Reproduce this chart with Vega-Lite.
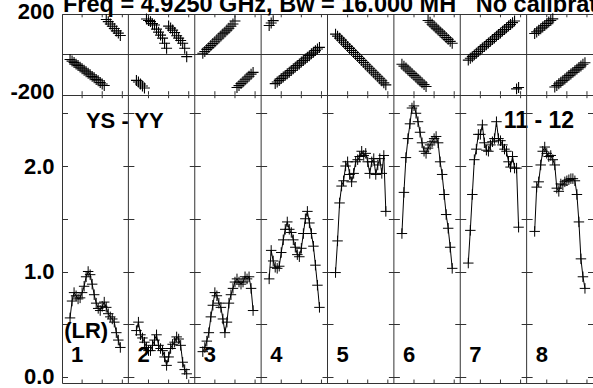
{
  "$schema": "https://vega.github.io/schema/vega-lite/v6.json",
  "width": 531,
  "height": 369,
  "autosize": {"type": "none"},
  "padding": {"left": 62, "top": 14, "right": 0, "bottom": 5},
  "background": "white",
  "config": {
    "view": {"stroke": "#333", "strokeWidth": 1},
    "axis": {"labelFont": "Liberation Sans", "labelFontWeight": "bold", "labelFontSize": 22, "labelColor": "black", "labelOverlap": false, "domain": false, "ticks": false, "tickSize": 0, "labelPadding": 8},
    "text": {"font": "Liberation Sans", "fontWeight": "bold", "fontSize": 22, "color": "black"}
  },
  "datasets": {
    "d": [
      {"i":1,"chan":4,"a":0.56,"p":-26},{"i":1,"chan":5,"a":0.72,"p":-34},{"i":1,"chan":6,"a":0.80,"p":-41},{"i":1,"chan":7,"a":0.77,"p":-49},{"i":1,"chan":8,"a":0.74,"p":-56},{"i":1,"chan":9,"a":0.75,"p":-64},{"i":1,"chan":10,"a":0.80,"p":-72},{"i":1,"chan":11,"a":0.86,"p":-79},{"i":1,"chan":12,"a":0.95,"p":-87},{"i":1,"chan":13,"a":1.00,"p":-94},{"i":1,"chan":14,"a":0.97,"p":-102},{"i":1,"chan":15,"a":0.88,"p":-110},{"i":1,"chan":16,"a":0.78,"p":-117},{"i":1,"chan":17,"a":0.70,"p":-125},{"i":1,"chan":18,"a":0.65,"p":-132},{"i":1,"chan":19,"a":0.63,"p":-140},{"i":1,"chan":20,"a":0.67,"p":-148},{"i":1,"chan":21,"a":0.71,"p":-155},{"i":1,"chan":22,"a":0.66,"p":173},{"i":1,"chan":23,"a":0.60,"p":162},{"i":1,"chan":24,"a":0.57,"p":150},{"i":1,"chan":25,"a":0.55,"p":139},{"i":1,"chan":26,"a":0.52,"p":128},{"i":1,"chan":27,"a":0.42,"p":116},{"i":1,"chan":28,"a":0.35,"p":105},{"i":1,"chan":29,"a":0.28,"p":93},
      {"i":2,"chan":37,"a":0.44,"p":-130},{"i":2,"chan":38,"a":0.52,"p":-138},{"i":2,"chan":39,"a":0.40,"p":-148},{"i":2,"chan":40,"a":0.37,"p":-158},{"i":2,"chan":41,"a":0.33,"p":-168},{"i":2,"chan":42,"a":0.28,"p":175},{"i":2,"chan":43,"a":0.25,"p":168},{"i":2,"chan":44,"a":0.25,"p":162},{"i":2,"chan":45,"a":0.30,"p":152},{"i":2,"chan":46,"a":0.35,"p":145},{"i":2,"chan":47,"a":0.40,"p":125},{"i":2,"chan":48,"a":0.30,"p":110},{"i":2,"chan":49,"a":0.27,"p":95},{"i":2,"chan":50,"a":0.25,"p":80},{"i":2,"chan":51,"a":0.19,"p":55},{"i":2,"chan":52,"a":0.11,"p":30},{"i":2,"chan":53,"a":0.19,"p":140},{"i":2,"chan":54,"a":0.27,"p":130},{"i":2,"chan":55,"a":0.31,"p":120},{"i":2,"chan":56,"a":0.33,"p":108},{"i":2,"chan":57,"a":0.38,"p":92},{"i":2,"chan":58,"a":0.36,"p":80},{"i":2,"chan":59,"a":0.30,"p":68},{"i":2,"chan":60,"a":0.14,"p":55},{"i":2,"chan":61,"a":0.07,"p":30},{"i":2,"chan":62,"a":0.03,"p":-12},
      {"i":3,"chan":70,"a":0.24,"p":5},{"i":3,"chan":71,"a":0.28,"p":14},{"i":3,"chan":72,"a":0.34,"p":24},{"i":3,"chan":73,"a":0.42,"p":33},{"i":3,"chan":74,"a":0.57,"p":43},{"i":3,"chan":75,"a":0.68,"p":53},{"i":3,"chan":76,"a":0.80,"p":62},{"i":3,"chan":77,"a":0.77,"p":72},{"i":3,"chan":78,"a":0.70,"p":81},{"i":3,"chan":79,"a":0.66,"p":91},{"i":3,"chan":80,"a":0.55,"p":101},{"i":3,"chan":81,"a":0.42,"p":110},{"i":3,"chan":82,"a":0.52,"p":120},{"i":3,"chan":83,"a":0.70,"p":129},{"i":3,"chan":84,"a":0.78,"p":139},{"i":3,"chan":85,"a":0.84,"p":150},{"i":3,"chan":86,"a":0.90,"p":165},{"i":3,"chan":87,"a":0.93,"p":-165},{"i":3,"chan":88,"a":0.90,"p":-156},{"i":3,"chan":89,"a":0.88,"p":-146},{"i":3,"chan":90,"a":0.90,"p":-137},{"i":3,"chan":91,"a":0.95,"p":-127},{"i":3,"chan":92,"a":0.93,"p":-118},{"i":3,"chan":93,"a":0.95,"p":-109},{"i":3,"chan":94,"a":0.84,"p":-99},{"i":3,"chan":95,"a":0.63,"p":-90},
      {"i":4,"chan":103,"a":0.93,"p":143},{"i":4,"chan":104,"a":1.20,"p":155},{"i":4,"chan":105,"a":1.10,"p":167},{"i":4,"chan":106,"a":1.04,"p":-146},{"i":4,"chan":107,"a":1.03,"p":-138},{"i":4,"chan":108,"a":1.05,"p":-130},{"i":4,"chan":109,"a":1.18,"p":-121},{"i":4,"chan":110,"a":1.30,"p":-113},{"i":4,"chan":111,"a":1.40,"p":-105},{"i":4,"chan":112,"a":1.47,"p":-97},{"i":4,"chan":113,"a":1.40,"p":-89},{"i":4,"chan":114,"a":1.37,"p":-81},{"i":4,"chan":115,"a":1.30,"p":-72},{"i":4,"chan":116,"a":1.23,"p":-64},{"i":4,"chan":117,"a":1.16,"p":-56},{"i":4,"chan":118,"a":1.14,"p":-48},{"i":4,"chan":119,"a":1.22,"p":-39},{"i":4,"chan":120,"a":1.36,"p":-31},{"i":4,"chan":121,"a":1.50,"p":-23},{"i":4,"chan":122,"a":1.57,"p":-15},{"i":4,"chan":123,"a":1.46,"p":-7},{"i":4,"chan":124,"a":1.36,"p":2},{"i":4,"chan":125,"a":1.24,"p":10},{"i":4,"chan":126,"a":1.06,"p":18},{"i":4,"chan":127,"a":0.87,"p":26},{"i":4,"chan":128,"a":0.66,"p":34},
      {"i":5,"chan":136,"a":0.99,"p":100},{"i":5,"chan":137,"a":1.29,"p":90},{"i":5,"chan":138,"a":1.65,"p":80},{"i":5,"chan":139,"a":1.81,"p":70},{"i":5,"chan":140,"a":1.86,"p":60},{"i":5,"chan":141,"a":2.00,"p":50},{"i":5,"chan":142,"a":2.04,"p":39},{"i":5,"chan":143,"a":1.92,"p":29},{"i":5,"chan":144,"a":1.85,"p":19},{"i":5,"chan":145,"a":1.93,"p":9},{"i":5,"chan":146,"a":2.04,"p":-1},{"i":5,"chan":147,"a":2.06,"p":-11},{"i":5,"chan":148,"a":2.09,"p":-21},{"i":5,"chan":149,"a":2.14,"p":-31},{"i":5,"chan":150,"a":2.10,"p":-41},{"i":5,"chan":151,"a":2.12,"p":-52},{"i":5,"chan":152,"a":2.04,"p":-62},{"i":5,"chan":153,"a":1.93,"p":-72},{"i":5,"chan":154,"a":2.04,"p":-82},{"i":5,"chan":155,"a":2.07,"p":-92},{"i":5,"chan":156,"a":1.92,"p":-102},{"i":5,"chan":157,"a":2.01,"p":-112},{"i":5,"chan":158,"a":2.07,"p":-122},{"i":5,"chan":159,"a":1.93,"p":-132},{"i":5,"chan":160,"a":2.10,"p":-142},{"i":5,"chan":161,"a":1.57,"p":-152},
      {"i":6,"chan":169,"a":1.36,"p":-50},{"i":6,"chan":170,"a":1.75,"p":-59},{"i":6,"chan":171,"a":2.08,"p":-68},{"i":6,"chan":172,"a":2.26,"p":-78},{"i":6,"chan":173,"a":2.40,"p":-87},{"i":6,"chan":174,"a":2.55,"p":-96},{"i":6,"chan":175,"a":2.57,"p":-105},{"i":6,"chan":176,"a":2.50,"p":-114},{"i":6,"chan":177,"a":2.42,"p":-124},{"i":6,"chan":178,"a":2.32,"p":-133},{"i":6,"chan":179,"a":2.22,"p":-142},{"i":6,"chan":180,"a":2.14,"p":-151},{"i":6,"chan":181,"a":2.12,"p":-160},{"i":6,"chan":182,"a":2.17,"p":168},{"i":6,"chan":183,"a":2.20,"p":159},{"i":6,"chan":184,"a":2.23,"p":149},{"i":6,"chan":185,"a":2.26,"p":140},{"i":6,"chan":186,"a":2.28,"p":130},{"i":6,"chan":187,"a":2.22,"p":121},{"i":6,"chan":188,"a":2.04,"p":111},{"i":6,"chan":189,"a":1.92,"p":102},{"i":6,"chan":190,"a":1.73,"p":93},{"i":6,"chan":191,"a":1.54,"p":83},{"i":6,"chan":192,"a":1.41,"p":74},{"i":6,"chan":193,"a":1.23,"p":64},{"i":6,"chan":194,"a":1.03,"p":55},
      {"i":7,"chan":202,"a":1.08,"p":-29},{"i":7,"chan":203,"a":1.39,"p":-20},{"i":7,"chan":204,"a":1.73,"p":-12},{"i":7,"chan":205,"a":2.06,"p":-3},{"i":7,"chan":206,"a":2.16,"p":5},{"i":7,"chan":207,"a":2.30,"p":14},{"i":7,"chan":208,"a":2.30,"p":22},{"i":7,"chan":209,"a":2.39,"p":31},{"i":7,"chan":210,"a":2.22,"p":39},{"i":7,"chan":211,"a":2.15,"p":47},{"i":7,"chan":212,"a":2.14,"p":56},{"i":7,"chan":213,"a":2.20,"p":64},{"i":7,"chan":214,"a":2.23,"p":73},{"i":7,"chan":215,"a":2.26,"p":81},{"i":7,"chan":216,"a":2.42,"p":90},{"i":7,"chan":217,"a":2.26,"p":98},{"i":7,"chan":218,"a":2.24,"p":106},{"i":7,"chan":219,"a":2.20,"p":115},{"i":7,"chan":220,"a":2.16,"p":123},{"i":7,"chan":221,"a":2.14,"p":132},{"i":7,"chan":222,"a":2.04,"p":140},{"i":7,"chan":223,"a":1.99,"p":148},{"i":7,"chan":224,"a":2.09,"p":157},{"i":7,"chan":225,"a":1.98,"p":165},{"i":7,"chan":226,"a":1.98,"p":-172},{"i":7,"chan":227,"a":1.42,"p":-165},
      {"i":8,"chan":235,"a":1.38,"p":103},{"i":8,"chan":236,"a":1.80,"p":111},{"i":8,"chan":237,"a":1.85,"p":119},{"i":8,"chan":238,"a":2.01,"p":127},{"i":8,"chan":239,"a":2.14,"p":135},{"i":8,"chan":240,"a":2.18,"p":143},{"i":8,"chan":241,"a":2.12,"p":152},{"i":8,"chan":242,"a":2.09,"p":160},{"i":8,"chan":243,"a":2.10,"p":168},{"i":8,"chan":244,"a":2.06,"p":176},{"i":8,"chan":245,"a":2.01,"p":-163},{"i":8,"chan":246,"a":1.79,"p":-155},{"i":8,"chan":247,"a":1.76,"p":-147},{"i":8,"chan":248,"a":1.83,"p":-139},{"i":8,"chan":249,"a":1.82,"p":-131},{"i":8,"chan":250,"a":1.85,"p":-123},{"i":8,"chan":251,"a":1.86,"p":-114},{"i":8,"chan":252,"a":1.87,"p":-106},{"i":8,"chan":253,"a":1.88,"p":-98},{"i":8,"chan":254,"a":1.88,"p":-90},{"i":8,"chan":255,"a":1.86,"p":-82},{"i":8,"chan":256,"a":1.73,"p":-74},{"i":8,"chan":257,"a":1.47,"p":-66},{"i":8,"chan":258,"a":1.12,"p":-58},{"i":8,"chan":259,"a":0.95,"p":-50},{"i":8,"chan":260,"a":0.84,"p":-42}
    ],
    "ticks": [
      {"t":10},{"t":20},{"t":30},{"t":43},{"t":53},{"t":63},{"t":76},{"t":86},{"t":96},{"t":109},{"t":119},{"t":129},
      {"t":142},{"t":152},{"t":162},{"t":175},{"t":185},{"t":195},{"t":208},{"t":218},{"t":228},{"t":241},{"t":251},{"t":261}
    ],
    "div": [{"d":33},{"d":66},{"d":99},{"d":132},{"d":165},{"d":198},{"d":231}]
  },
  "data": {"name": "d"},
  "layer": [
    {
      "layer": [
        {
          "mark": {"type": "point", "shape": "M-1,0L1,0M0,-1L0,1", "size": 120, "filled": false, "color": "black", "strokeWidth": 1.1, "opacity": 1},
          "encoding": {
            "x": {"field": "chan", "type": "quantitative", "scale": {"domain": [0, 264], "nice": false, "zero": false}, "axis": null},
            "y": {"field": "p", "type": "quantitative", "scale": {"domain": [-200, 200], "range": [80.5, 0], "nice": false, "zero": false},
                  "axis": {"orient": "left", "title": null, "values": [-200, 0, 200], "labelOffset": -3, "labelExpr": "datum.value > 0 ? '200' : (datum.value < 0 ? '-200' : '')", "grid": true, "gridColor": "#333", "gridOpacity": 1, "gridWidth": 1}}
          }
        },
        {
          "data": {"name": "ticks"},
          "mark": {"type": "rule", "color": "#333", "strokeWidth": 1},
          "encoding": {
            "x": {"field": "t", "type": "quantitative", "axis": null},
            "y": {"datum": 200, "type": "quantitative"},
            "y2": {"datum": 183.6}
          }
        },
        {
          "data": {"name": "ticks"},
          "mark": {"type": "rule", "color": "#333", "strokeWidth": 1},
          "encoding": {
            "x": {"field": "t", "type": "quantitative", "axis": null},
            "y": {"datum": -200, "type": "quantitative"},
            "y2": {"datum": -183.6}
          }
        },
        {
          "data": {"values": [{}]},
          "mark": {"type": "text", "align": "left", "baseline": "alphabetic", "fontSize": 23.5},
          "encoding": {
            "x": {"datum": 0.5, "type": "quantitative", "axis": null},
            "y": {"datum": 212, "type": "quantitative"},
            "text": {"value": "Freq = 4.9250 GHz, Bw = 16.000 MH\u00a0\u00a0\u00a0No calibration applied"}
          }
        }
      ]
    },
    {
      "layer": [
        {
          "mark": {"type": "line", "color": "black", "strokeWidth": 1},
          "encoding": {
            "x": {"field": "chan", "type": "quantitative", "axis": null},
            "y": {"field": "a", "type": "quantitative", "scale": {"domain": [-0.057, 2.678], "range": [369, 80.5], "nice": false, "zero": false},
                  "axis": {"orient": "left", "title": null, "values": [0, 0.5, 1, 1.5, 2, 2.5], "labelExpr": "datum.value == 0 ? '0.0' : (datum.value == 1 ? '1.0' : (datum.value == 2 ? '2.0' : ''))", "grid": true, "gridColor": "#333", "gridOpacity": 1, "gridWidth": 1, "gridDash": [11, 55.375], "gridDashOffset": 5.5}},
            "detail": {"field": "i", "type": "nominal"}
          }
        },
        {
          "mark": {"type": "point", "shape": "M-1,0L1,0M0,-1L0,1", "size": 110, "filled": false, "color": "black", "strokeWidth": 1, "opacity": 1},
          "encoding": {
            "x": {"field": "chan", "type": "quantitative", "axis": null},
            "y": {"field": "a", "type": "quantitative"}
          }
        },
        {
          "data": {"name": "ticks"},
          "mark": {"type": "rule", "color": "#333", "strokeWidth": 1},
          "encoding": {
            "x": {"field": "t", "type": "quantitative", "axis": null},
            "y": {"datum": 2.678, "type": "quantitative"},
            "y2": {"datum": 2.643}
          }
        },
        {
          "data": {"name": "ticks"},
          "mark": {"type": "rule", "color": "#333", "strokeWidth": 1},
          "encoding": {
            "x": {"field": "t", "type": "quantitative", "axis": null},
            "y": {"datum": -0.057, "type": "quantitative"},
            "y2": {"datum": -0.024}
          }
        },
        {
          "transform": [{"filter": "datum.chan % 33 == 4"}],
          "mark": {"type": "text", "align": "left", "baseline": "alphabetic", "dx": 1},
          "encoding": {
            "x": {"field": "chan", "type": "quantitative", "axis": null},
            "y": {"datum": 0.142, "type": "quantitative"},
            "text": {"field": "i", "type": "nominal"}
          }
        },
        {
          "data": {"values": [{}]},
          "mark": {"type": "text", "align": "left", "baseline": "alphabetic"},
          "encoding": {
            "x": {"datum": 1.1, "type": "quantitative", "axis": null},
            "y": {"datum": 0.367, "type": "quantitative"},
            "text": {"value": "(LR)"}
          }
        },
        {
          "data": {"values": [{}]},
          "mark": {"type": "text", "align": "left", "baseline": "alphabetic"},
          "encoding": {
            "x": {"datum": 11.9, "type": "quantitative", "axis": null},
            "y": {"datum": 2.359, "type": "quantitative"},
            "text": {"value": "YS - YY"}
          }
        },
        {
          "data": {"values": [{}]},
          "mark": {"type": "text", "align": "right", "baseline": "alphabetic", "fontSize": 23},
          "encoding": {
            "x": {"datum": 254.6, "type": "quantitative", "axis": null},
            "y": {"datum": 2.359, "type": "quantitative"},
            "text": {"value": "11 - 12"}
          }
        }
      ]
    },
    {
      "data": {"name": "div"},
      "mark": {"type": "rule", "color": "#333", "strokeWidth": 1},
      "encoding": {
        "x": {"field": "d", "type": "quantitative", "axis": null}
      }
    }
  ],
  "resolve": {"scale": {"y": "independent"}, "axis": {"y": "independent"}}
}
